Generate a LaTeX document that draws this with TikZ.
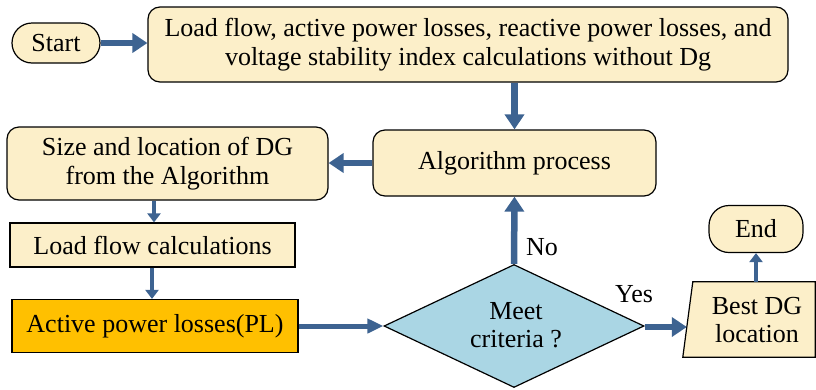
\documentclass[tikz,border=0pt]{standalone}
\usepackage{fontspec}
\setmainfont{Liberation Serif}
\usetikzlibrary{arrows.meta,shapes.geometric,calc}
\definecolor{boxfill}{RGB}{252,239,201}
\definecolor{flowblue}{RGB}{61,99,145}
\definecolor{decfill}{RGB}{170,214,228}
\definecolor{hotfill}{RGB}{255,192,0}
\tikzset{
  txt/.style={inner sep=0pt, align=center, font=\fontsize{26}{28.5}\selectfont},
  base/.style={txt, draw=black, line width=1.2pt, fill=boxfill},
  procbox/.style={base, rounded corners=12pt},
  plainbox/.style={base},
  termbox/.style={base, rounded corners=20pt},
  flow/.style={draw=flowblue, line width=6.5pt, -{Triangle[length=15pt,width=19pt]}},
  midflow/.style={draw=flowblue, line width=5pt, -{Triangle[length=16pt,width=14pt]}},
  thinflow/.style={draw=flowblue, line width=4.5pt, -{Triangle[length=9pt,width=13pt]}},
  lbl/.style={txt}
}
\begin{document}
\begin{tikzpicture}[x=1pt,y=-1pt]
\useasboundingbox (0,0) rectangle (816,389);
% start and initial calculations
\node[termbox, minimum width=88pt, minimum height=40pt] (start) at (56,43) {Start};
\node[procbox, minimum width=640pt, minimum height=75pt] (init) at (468,44.5)
  {Load flow, active power losses, reactive power losses, and\\voltage stability index calculations without Dg};
% optimisation loop
\node[procbox, minimum width=283pt, minimum height=66pt] (alg) at (514.5,163) {Algorithm process};
\node[procbox, minimum width=321pt, minimum height=73pt] (size) at (167.5,163.5) {Size and location of DG\\from the Algorithm};
\node[plainbox, minimum width=285pt, minimum height=44pt] (lf) at (152.5,245) {Load flow calculations};
\node[plainbox, fill=hotfill, minimum width=286pt, minimum height=53pt] (act) at (155,326) {Active power losses(PL)};
\node[base, diamond, fill=decfill, minimum width=260pt, minimum height=123pt, aspect=2.1] (dec) at (514,326) {};
\node[txt] (dectext) at (516,325) {Meet\\criteria ?};
% result and end
\node[txt, minimum width=132pt, minimum height=75pt] (best) at (749,319.5) {};
\filldraw[fill=boxfill, draw=black, line width=1.2pt] ($(best.north west)+(10,0)$) -- (best.north east) -- (best.south east) -- (best.south west) -- cycle;
\node[txt] (besttext) at (757,320) {Best DG\\location};
\node[termbox, minimum width=94pt, minimum height=47pt] (end) at (756,229) {End};

% connectors
\draw[flow] (start.east) -- (init.west |- start.east);
\draw[flow] (init.south -| alg.north) -- (alg.north);
\draw[flow] (alg.west) -- (size.east |- alg.west);
\draw[thinflow] (size.south -| 154,0) -- (lf.north -| 154,0);
\draw[thinflow] (lf.south -| 152,0) -- (act.north -| 152,0);
\draw[midflow] (act.east) -- (dec.west);
\draw[flow] (dec.north) -- (alg.south);
\node[lbl] (no) at (542,247) {No};
\draw[flow] (dec.east) ++(0,1) coordinate (yesstart) -- ($(yesstart -| best.west)+(4,0)$);
\node[lbl] (yes) at (634,294) {Yes};
\draw[thinflow] (best.north -| end.south) -- (end.south);
\end{tikzpicture}
\end{document}
